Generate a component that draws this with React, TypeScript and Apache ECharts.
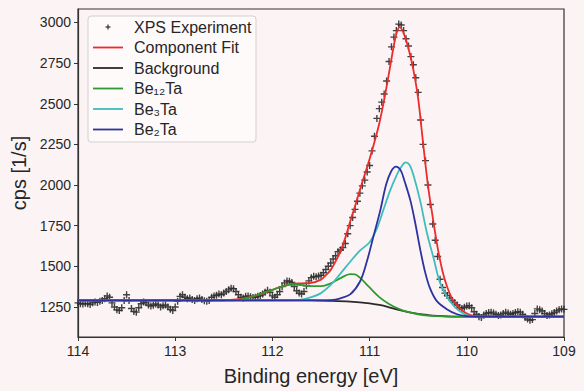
import React, { useEffect, useRef } from "react";
import * as echarts from "echarts";

// ---- data ----
const energyStart = 114; // eV, first sample
const energyStep = 0.025; // eV between samples (decreasing)
const xpsCounts = [
  // 114.000 -> 113.000
  1275, 1270, 1268, 1272, 1270, 1265, 1275, 1280, 1278, 1285,
  1290, 1300, 1318, 1310, 1275, 1250, 1232, 1228, 1245, 1290,
  1325, 1290, 1240, 1222, 1218, 1245, 1270, 1280, 1275, 1262,
  1255, 1260, 1268, 1262, 1250, 1258, 1262, 1250, 1235, 1228,
  1250,
  // 112.975 -> 112.000
  1285, 1315, 1325, 1310, 1300, 1305, 1295, 1290, 1300, 1305,
  1295, 1288, 1285, 1290, 1310, 1318, 1322, 1330, 1325, 1335,
  1345, 1355, 1365, 1362, 1345, 1325, 1310, 1305, 1315, 1318,
  1312, 1308, 1310, 1315, 1320, 1330, 1340, 1352, 1340, 1318,
  // 111.975 -> 111.500
  1310, 1325, 1345, 1375, 1398, 1410, 1408, 1400, 1375, 1350,
  1335, 1330, 1345, 1380, 1410, 1430, 1438, 1435, 1440, 1445,
  // 111.475 -> 111.000
  1460, 1480, 1500, 1520, 1545, 1565, 1590, 1600, 1615, 1640,
  1700, 1750, 1800, 1850, 1900, 1950, 1995, 2030, 2080, 2120,
  // 110.975 -> 110.500
  2210, 2300, 2410, 2470, 2510, 2560, 2640, 2760, 2850, 2910,
  2950, 2990, 2985, 2950, 2900, 2855, 2790, 2740, 2660, 2570,
  // 110.475 -> 110.000
  2400, 2250, 2150, 2000, 1880, 1760, 1660, 1560, 1420, 1370,
  1335, 1320, 1305, 1290, 1275, 1262, 1245, 1240, 1248, 1255,
  // 109.975 -> 109.500
  1258, 1245, 1220, 1205, 1190, 1185, 1200, 1210, 1215, 1218,
  1212, 1205, 1198, 1200, 1210, 1218, 1212, 1205, 1210, 1215,
  // 109.475 -> 109.000
  1220, 1218, 1205, 1185, 1175, 1168, 1172, 1210, 1238, 1232,
  1225, 1210, 1198, 1200, 1208, 1215, 1225, 1232, 1238, 1235,
];

const componentFit: [number, number][] = [
  [114, 1290], [112.5, 1291], [112.4, 1295], [112.3, 1303], [112.2, 1315],
  [112.1, 1332], [112.0, 1355], [111.9, 1377], [111.8, 1391], [111.7, 1395],
  [111.6, 1398], [111.5, 1418], [111.45, 1445], [111.4, 1478], [111.35, 1530],
  [111.3, 1592], [111.25, 1675], [111.2, 1775], [111.15, 1870], [111.1, 1970],
  [111.05, 2065], [111.0, 2160], [110.95, 2265], [110.9, 2380], [110.85, 2525],
  [110.8, 2690], [110.75, 2860], [110.72, 2940], [110.69, 2972], [110.65, 2935],
  [110.6, 2840], [110.55, 2710], [110.5, 2530], [110.45, 2260], [110.4, 2000],
  [110.35, 1800], [110.3, 1615], [110.25, 1470], [110.2, 1370], [110.15, 1300],
  [110.1, 1258], [110.05, 1230], [110.0, 1210], [109.95, 1198], [109.9, 1193],
  [109.8, 1190], [109, 1190],
];

const background: [number, number][] = [
  [114, 1290], [111.6, 1290], [111.4, 1288], [111.2, 1283], [111.0, 1272],
  [110.9, 1262], [110.8, 1248], [110.7, 1232], [110.6, 1218], [110.5, 1207],
  [110.4, 1200], [110.3, 1195], [110.2, 1192], [110.0, 1190], [109, 1190],
];

const be12Ta: [number, number][] = [
  [114, 1290], [112.4, 1291], [112.3, 1298], [112.2, 1315], [112.1, 1335],
  [112.0, 1355], [111.9, 1375], [111.8, 1387], [111.7, 1385], [111.6, 1378],
  [111.5, 1378], [111.4, 1395], [111.3, 1427], [111.2, 1452], [111.15, 1450],
  [111.1, 1430], [111.0, 1370], [110.9, 1310], [110.8, 1268], [110.7, 1238],
  [110.6, 1218], [110.5, 1205], [110.4, 1197], [110.3, 1193], [110.2, 1191],
  [110.0, 1190], [109, 1190],
];

const be3Ta: [number, number][] = [
  [114, 1290], [111.85, 1290], [111.7, 1295], [111.6, 1310], [111.5, 1335],
  [111.4, 1385], [111.3, 1455], [111.2, 1528], [111.1, 1596], [111.0, 1648],
  [110.93, 1725], [110.86, 1844], [110.79, 1964], [110.72, 2063], [110.67, 2115],
  [110.63, 2139], [110.59, 2125], [110.55, 2063], [110.48, 1904], [110.41, 1705],
  [110.34, 1546], [110.28, 1407], [110.21, 1317], [110.12, 1247], [110.05, 1215],
  [110.0, 1200], [109.9, 1191], [109, 1190],
];

const be2Ta: [number, number][] = [
  [114, 1290], [111.45, 1290], [111.4, 1291], [111.3, 1303], [111.2, 1327],
  [111.1, 1405], [111.03, 1526], [110.96, 1685], [110.89, 1844], [110.83, 2003],
  [110.78, 2082], [110.73, 2113], [110.68, 2090], [110.64, 2023], [110.58, 1904],
  [110.53, 1765], [110.48, 1606], [110.43, 1467], [110.38, 1367], [110.31, 1287],
  [110.21, 1238], [110.1, 1205], [110.0, 1193], [109.9, 1190], [109, 1190],
];

const yTicks = [1250, 1500, 1750, 2000, 2250, 2500, 2750, 3000];
const seriesNames = ["XPS Experiment", "Component Fit", "Background", "Be\u2081\u2082Ta", "Be\u2083Ta", "Be\u2082Ta"];
const seriesColors = ["#2e2e2e", "#ee2b2b", "#2a2a2a", "#2f9a2f", "#3dbdbd", "#2c32a0"];

const xpsPoints: [number, number][] = xpsCounts.map((c, i) => [
  Number((energyStart - i * energyStep).toFixed(3)),
  c,
]);

const PLUS = "path://M4,0 H6 V4 H10 V6 H6 V10 H4 V6 H0 V4 H4 Z";
const FONT = "'Liberation Sans', Arial, sans-serif";
const TXT = "#262626";

function buildLegend() {
  const items: any[] = [
    {
      type: "rect",
      shape: { x: 88, y: 16, width: 168, height: 126, r: 3 },
      style: { fill: "rgba(255,255,255,0.55)", stroke: "#d4d0d0", lineWidth: 1 },
      z: 100,
    },
  ];
  const rowY = [27, 47.5, 68, 88.5, 109, 129.5];
  seriesNames.forEach((name, i) => {
    const y = rowY[i];
    if (i === 0) {
      items.push({ type: "line", shape: { x1: 105.5, y1: y, x2: 110.5, y2: y }, style: { stroke: seriesColors[0], lineWidth: 1.2 }, z: 101 });
      items.push({ type: "line", shape: { x1: 108, y1: y - 2.5, x2: 108, y2: y + 2.5 }, style: { stroke: seriesColors[0], lineWidth: 1.2 }, z: 101 });
    } else {
      items.push({ type: "line", shape: { x1: 93, y1: y, x2: 123, y2: y }, style: { stroke: seriesColors[i], lineWidth: 1.8 }, z: 101 });
    }
    items.push({
      type: "text",
      x: 134,
      y,
      style: { text: name, fill: TXT, font: `16px ${FONT}`, textVerticalAlign: "middle", verticalAlign: "middle" },
      z: 101,
    });
  });
  return items;
}

export default function App() {
  const ref = useRef<HTMLDivElement>(null);
  useEffect(() => {
    document.body.style.margin = "0";
    const chart = echarts.init(ref.current!, null, { renderer: "svg" });
    const lineSeries = [componentFit, background, be12Ta, be3Ta, be2Ta].map((d, k) => ({
      type: "line",
      name: seriesNames[k + 1],
      data: d,
      showSymbol: false,
      smooth: 0.35,
      lineStyle: { color: seriesColors[k + 1], width: 1.8 },
      itemStyle: { color: seriesColors[k + 1] },
      z: 3 + k,
    }));
    chart.setOption({
      animation: false,
      backgroundColor: "#fcf4f4",
      grid: {
        left: 78,
        right: 20,
        top: 9,
        bottom: 44,
        show: true,
        borderColor: "#333",
        borderWidth: 1.2,
        backgroundColor: "transparent",
      },
      xAxis: {
        type: "value",
        min: 109,
        max: 114,
        interval: 1,
        inverse: true,
        name: "Binding energy [eV]",
        nameLocation: "middle",
        nameGap: 29,
        nameTextStyle: { fontFamily: FONT, fontSize: 20, color: TXT, padding: [0, 20, 0, 0] },
        axisLine: { show: true, lineStyle: { color: "#333", width: 1.2 } },
        axisTick: { show: true, length: 4, lineStyle: { color: "#333" } },
        axisLabel: { color: TXT, fontFamily: FONT, fontSize: 14, margin: 7 },
        splitLine: { show: false },
      },
      yAxis: {
        type: "value",
        min: 1065,
        max: 3083,
        name: "cps [1/s]",
        nameLocation: "middle",
        nameGap: 43,
        nameTextStyle: { fontFamily: FONT, fontSize: 20, color: TXT },
        axisLine: { show: true, lineStyle: { color: "#333", width: 1.2 } },
        axisTick: { show: true, length: 4, customValues: yTicks, lineStyle: { color: "#333" } },
        axisLabel: {
          color: TXT,
          fontFamily: FONT,
          fontSize: 14,
          margin: 7,
          customValues: yTicks,
          formatter: (v: number) => String(Math.round(v)),
        },
        splitLine: { show: false },
      },
      series: [
        {
          type: "scatter",
          name: seriesNames[0],
          data: xpsPoints,
          symbol: PLUS,
          symbolSize: 7,
          itemStyle: { color: seriesColors[0], opacity: 0.9 },
          z: 2,
        },
        ...lineSeries,
      ],
      graphic: buildLegend(),
    });
    return () => chart.dispose();
  }, []);
  return (
    <div
      ref={ref}
      style={{ position: "fixed", left: 0, top: 0, width: 584, height: 391 }}
    />
  );
}
